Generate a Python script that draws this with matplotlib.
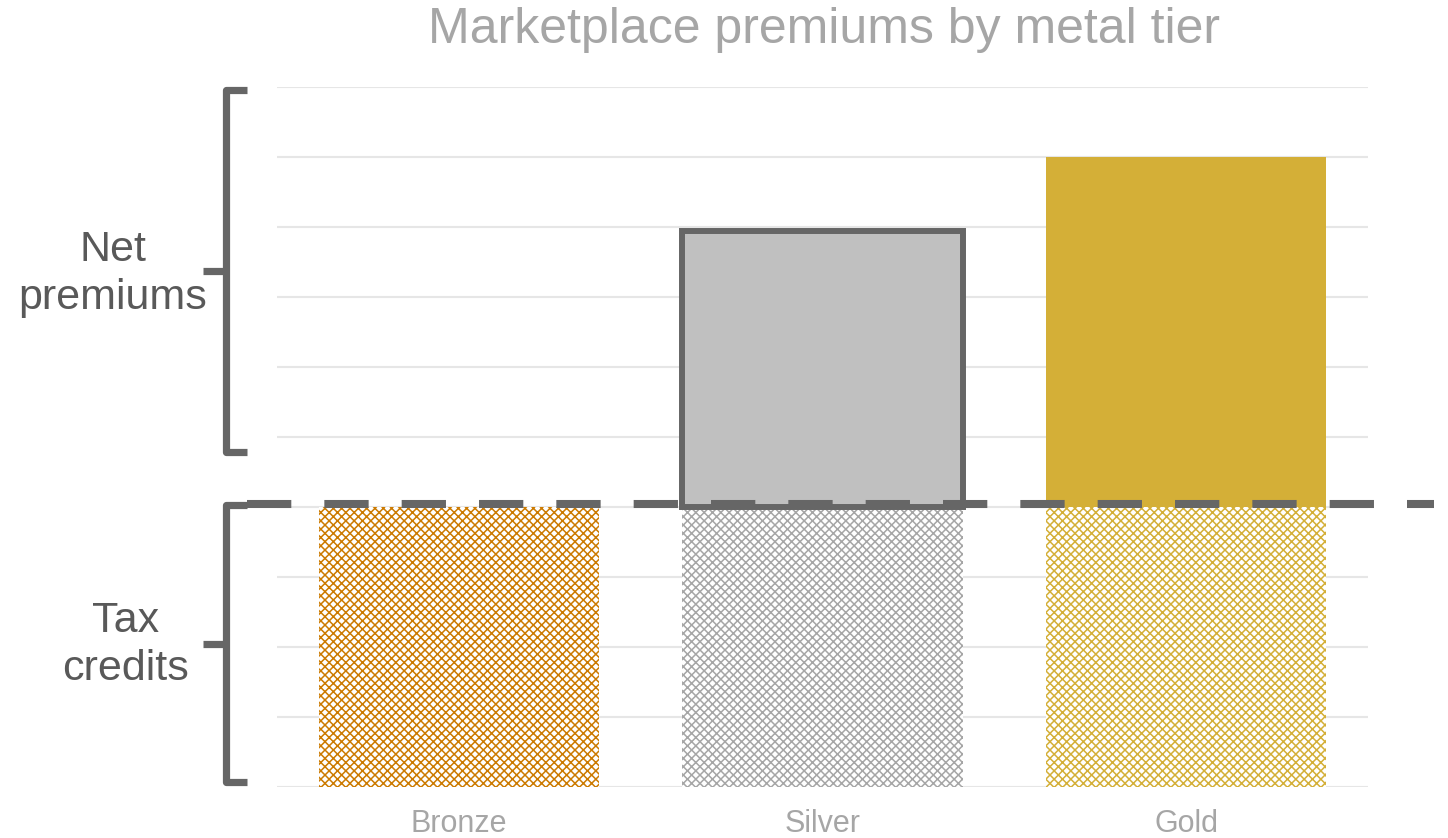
import matplotlib
matplotlib.use("Agg")
import matplotlib.pyplot as plt
import numpy as np

plt.rcParams['font.family'] = ['Liberation Sans', 'DejaVu Sans']
plt.rcParams['hatch.linewidth'] = 1.1

# data
tiers = ["Bronze", "Silver", "Gold"]
net_premiums = [0.0, 3.94, 5.0]
tax_credits = [-4.0, -4.0, -4.0]
title = "Marketplace premiums by metal tier"
group_labels = ["Net\npremiums", "Tax\ncredits"]

W, H = 1448, 838
fig = plt.figure(figsize=(W / 100, H / 100), dpi=100)
ax = fig.add_axes([277 / W, 1 - 787 / H, (1368 - 277) / W, (787 - 87) / H])
ax.set_xlim(-0.5, 2.5)
ax.set_ylim(-4, 6)

x = np.arange(len(tiers))
bw = 0.77

# gridlines
for yv in range(-4, 7):
    ax.axhline(yv, color="#E6E6E6", lw=1.5, zorder=0)

pattern_colors = ["#CC7A00", "#A6A6A6", "#D4AF37"]
for i in range(len(tiers)):
    ax.bar(x[i], tax_credits[i], width=bw, facecolor="white",
           edgecolor=pattern_colors[i], hatch="xxxx", linewidth=0, zorder=2)

# net premiums
ax.bar(x[1], net_premiums[1], width=bw, facecolor="#C0C0C0",
       edgecolor="#666666", linewidth=4.3, zorder=3)
ax.bar(x[2], net_premiums[2], width=bw, facecolor="#D4AF37",
       edgecolor="none", linewidth=0, zorder=3)

# dashed zero line
ax.plot([-0.582, 2.681], [0.04, 0.04], color="#666666", lw=5.8,
        dashes=(5.5, 4.1), clip_on=False, zorder=5, dash_capstyle="butt")

# braces
def brace(y_top, y_bot, y_mid):
    xv, xh, xs = -0.6416, -0.5825, -0.7035
    ax.plot([xh, xv, xv, xh], [y_top, y_top, y_bot, y_bot], color="#666666",
            lw=5.2, solid_joinstyle="round", solid_capstyle="butt",
            clip_on=False, zorder=4)
    ax.plot([xs, xv], [y_mid, y_mid], color="#666666", lw=5.2,
            solid_capstyle="butt", clip_on=False, zorder=4)

brace(5.957, 0.786, 3.371)
brace(0.029, -3.93, -1.957)

for s in ax.spines.values():
    s.set_visible(False)
ax.set_yticks([])
ax.set_xticks(x)
ax.set_xticklabels(tiers, fontsize=22, color="#A6A6A6")
ax.tick_params(axis="x", length=0, pad=16)

fig.text(824 / W, 1 - 30 / H, title, ha="center", va="center",
         fontsize=36, color="#A6A6A6")
fig.text(113 / W, 1 - 274 / H, group_labels[0], ha="center", va="center",
         fontsize=31, color="#595959", linespacing=1.25)
fig.text(126 / W, 1 - 645 / H, group_labels[1], ha="center", va="center",
         fontsize=31, color="#595959", linespacing=1.25)

fig.savefig("out.png", dpi=100)
